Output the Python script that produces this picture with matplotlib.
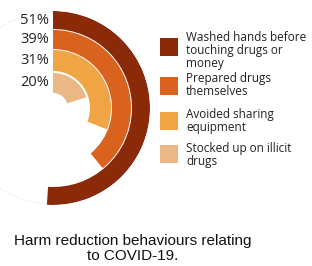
import matplotlib
matplotlib.use("Agg")
import matplotlib.pyplot as plt
import numpy as np
from matplotlib.patches import Rectangle

categories = ["Washed hands before\ntouching drugs or\nmoney",
              "Prepared drugs\nthemselves",
              "Avoided sharing\nequipment",
              "Stocked up on illicit\ndrugs"]
values = [51, 39, 31, 20]
labels = ["51%", "39%", "31%", "20%"]
colors = ["#8a2a09", "#d9621f", "#f0a443", "#ebb885"]

W, H = 312, 266
fig = plt.figure(figsize=(W/100, H/100), dpi=100)

cx, cy, R = 53, 108, 97
ax = fig.add_axes([(cx - R)/W, (H - cy - R)/H, 2*R/W, 2*R/H], projection="polar")
ax.set_theta_zero_location("N")
ax.set_theta_direction(-1)
ax.set_ylim(0, R)
ax.set_axis_off()

centers = [88, 68.5, 47.5, 25]
heights = [18, 19, 21, 20]
# faint track
ax.bar(0, 1.2, width=2*np.pi, bottom=R-1.5, color="#f3f3f3", align="edge", linewidth=0)
for c, h, v, col, lab in zip(centers, heights, values, colors, labels):
    ax.bar(0, h, width=v/100*2*np.pi, bottom=c - h/2, color=col, align="edge", linewidth=0)
    ax.annotate(lab, xy=(0, c), xytext=(-3, 0), textcoords="offset points",
                ha="right", va="center", fontsize=10.5, family="Open Sans", color="#222222")

# legend (manual layout, pixel positions from the top-left corner)
sq_left, sq_size, txt_left = 160, 17.5, 186
sq_tops = [38, 77, 112, 145]
txt_tops = [31, 72, 108, 142]
for cat, col, st, tt in zip(categories, colors, sq_tops, txt_tops):
    fig.add_artist(Rectangle((sq_left/W, 1 - (st + sq_size)/H), sq_size/W, sq_size/H,
                             transform=fig.transFigure, facecolor=col, edgecolor="none"))
    fig.text(txt_left/W, 1 - tt/H, cat, ha="left", va="top", fontsize=8.5,
             family="Open Sans", color="#222222", linespacing=1.0)

fig.text(133/W, 1 - 248.5/H, "Harm reduction behaviours relating\nto COVID-19.",
         ha="center", va="center", fontsize=11, family="Liberation Sans", color="#111111",
         linespacing=1.0)

fig.savefig("out.png", dpi=100)
